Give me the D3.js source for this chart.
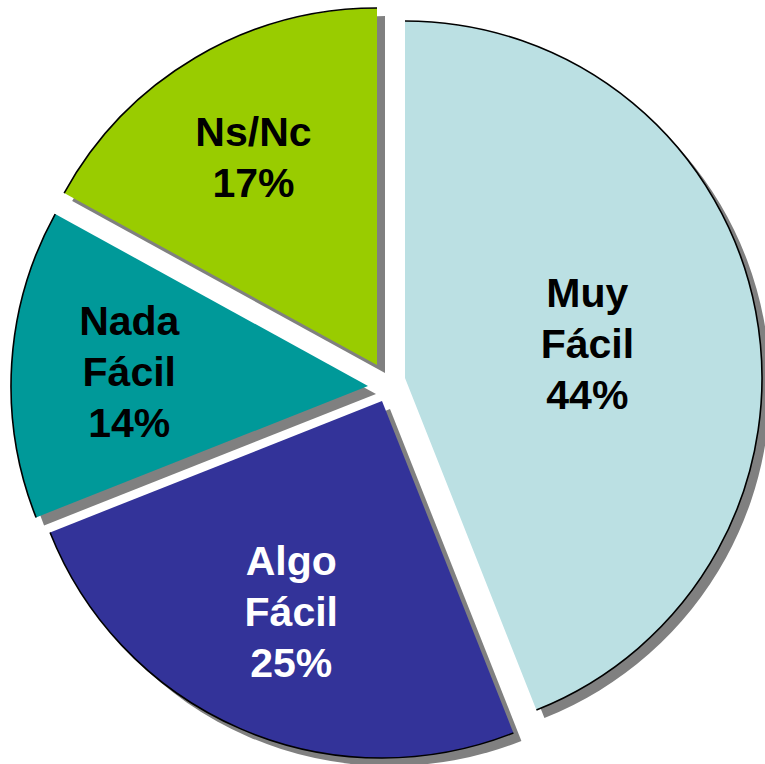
<!DOCTYPE html>
<html>
<head>
<meta charset="utf-8">
<script src="https://cdn.jsdelivr.net/npm/d3@7"></script>
<style>
  body { margin: 0; background: #fff; }
  .label { font-family: "Liberation Sans", Arial, sans-serif; font-weight: bold; font-size: 41px; }
</style>
</head>
<body>
<script>
// chart data
let categories = ["Muy Fácil", "Algo Fácil", "Nada Fácil", "Ns/Nc"];
let labelLines = [["Muy", "Fácil"], ["Algo", "Fácil"], ["Nada", "Fácil"], ["Ns/Nc"]];
let values = [44, 25, 14, 17];

// styling
let colors = ["#BBE0E3", "#333399", "#009999", "#99CC00"];
let textColors = ["#000", "#fff", "#000", "#000"];
// exploded offsets of each slice (dx, dy)
let explode = [[22, -2], [-1, 21], [-15, 6], [-6, -15]];
// label distance as fraction of radius
let labelFrac = [0.52, 0.64, 0.67, 0.68];

window.onload = drawPie();

function drawPie(){
    let width = 765;
    let height = 764;
    let cx = 383, cy = 380;
    let radius = 357;

    let svg = d3.select("body")
        .append("svg")
        .attr("width", width)
        .attr("height", height);

    let pie = d3.pie()
        .value(d => d)
        .sort(null);

    let arcs = pie(values);

    let arc = d3.arc()
        .innerRadius(0)
        .outerRadius(radius);

    let rim = d3.arc()
        .innerRadius(radius)
        .outerRadius(radius);

    let g = svg.append("g")
        .attr("transform", "translate(" + cx + "," + cy + ")");

    // shadows first
    g.selectAll(".shadow")
        .data(arcs)
        .enter()
        .append("path")
        .attr("class", "shadow")
        .attr("d", arc)
        .attr("fill", "#808080")
        .attr("transform", (d, i) => "translate(" + (explode[i][0] + 8) + "," + (explode[i][1] + 8) + ")");

    let slices = g.selectAll(".slice")
        .data(arcs)
        .enter()
        .append("g")
        .attr("class", "slice")
        .attr("transform", (d, i) => "translate(" + explode[i][0] + "," + explode[i][1] + ")");

    slices.append("path")
        .attr("d", arc)
        .attr("fill", (d, i) => colors[i]);

    slices.append("path")
        .attr("d", rim)
        .attr("fill", "none")
        .attr("stroke", "#000")
        .attr("stroke-width", 1.6);

    // labels
    let lineH = 51;
    slices.each(function(d, i){
        let mid = (d.startAngle + d.endAngle) / 2;
        let r = radius * labelFrac[i];
        let x = Math.sin(mid) * r;
        let y = -Math.cos(mid) * r;
        let lines = labelLines[i].concat([values[i] + "%"]);
        let n = lines.length;
        let t = d3.select(this).append("text")
            .attr("class", "label")
            .attr("text-anchor", "middle")
            .attr("fill", textColors[i]);
        lines.forEach((s, k) => {
            t.append("tspan")
                .attr("x", x)
                .attr("y", y + (k - (n - 1) / 2) * lineH + 15)
                .text(s);
        });
    });
}
</script>
</body>
</html>
